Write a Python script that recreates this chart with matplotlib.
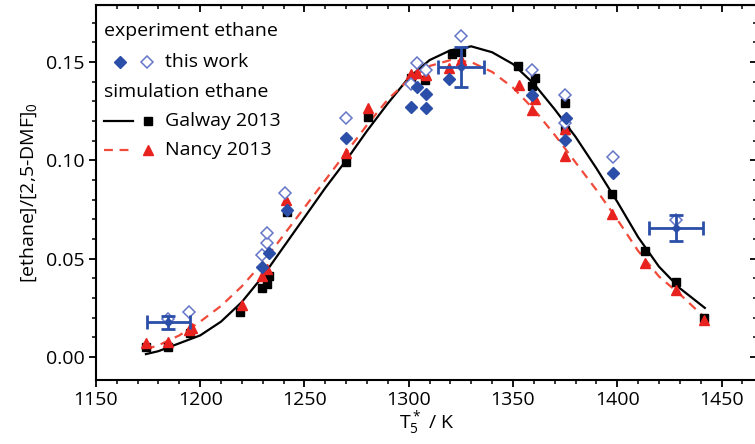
import matplotlib.pyplot as plt

plt.rcParams['font.family'] = ['Open Sans', 'DejaVu Sans']
plt.rcParams['mathtext.fontset'] = 'custom'
plt.rcParams['mathtext.rm'] = 'Open Sans'
plt.rcParams['mathtext.it'] = 'Open Sans'

# Simulated ethane yield, Galway 2013 mechanism (smooth curve)
galway_T = [1174, 1180, 1190, 1200, 1210, 1220, 1230, 1240, 1250, 1260, 1270, 1280,
            1290, 1300, 1310, 1320, 1330, 1340, 1350, 1360, 1370, 1380, 1390, 1400,
            1410, 1420, 1430, 1442]
galway_v = [0.0015, 0.003, 0.007, 0.011, 0.018, 0.028, 0.041, 0.056, 0.071, 0.086, 0.100,
            0.115, 0.129, 0.142, 0.151, 0.156, 0.158, 0.155, 0.149, 0.139, 0.126, 0.112,
            0.096, 0.079, 0.061, 0.046, 0.035, 0.025]

# Simulated ethane yield, Nancy 2013 mechanism (smooth curve)
nancy_T = [1174, 1180, 1190, 1200, 1210, 1220, 1230, 1240, 1250, 1260, 1270, 1280,
           1290, 1300, 1310, 1320, 1330, 1340, 1350, 1360, 1370, 1380, 1390, 1400,
           1410, 1420, 1430, 1442]
nancy_v = [0.004, 0.006, 0.011, 0.018, 0.026, 0.036, 0.048, 0.062, 0.076, 0.090, 0.104,
           0.118, 0.131, 0.141, 0.148, 0.151, 0.150, 0.145, 0.137, 0.126, 0.113, 0.099,
           0.085, 0.070, 0.054, 0.041, 0.032, 0.020]

# Simulation points at the experimental conditions
galway_pts_T = [1174, 1184.5, 1195, 1219, 1229.5, 1231.9, 1233, 1241.5, 1270, 1280.7,
                1301, 1307.6, 1320.6, 1325, 1352.6, 1359.3, 1360.7, 1375, 1375,
                1397.6, 1413.4, 1428.3, 1441.7]
galway_pts_v = [0.005, 0.005, 0.012, 0.023, 0.035, 0.037, 0.041, 0.074, 0.099, 0.122,
                0.142, 0.141, 0.154, 0.155, 0.148, 0.138, 0.142, 0.129, 0.1155,
                0.083, 0.054, 0.038, 0.020]

nancy_pts_T = [1174, 1184.5, 1194.5, 1196, 1220, 1229.5, 1232, 1241, 1270, 1280.7,
               1301, 1304, 1308.5, 1319.5, 1325, 1353, 1360.7, 1359.3, 1375, 1375,
               1397.6, 1413.4, 1428.3, 1441.7]
nancy_pts_v = [0.007, 0.0076, 0.014, 0.015, 0.0264, 0.041, 0.045, 0.080, 0.104, 0.1267,
               0.144, 0.1445, 0.1434, 0.147, 0.151, 0.1383, 0.131, 0.1256, 0.116, 0.102,
               0.0727, 0.048, 0.034, 0.019]

# Experiment, this work (filled and open diamonds)
exp_filled_T = [1229.5, 1233, 1241.5, 1270, 1301, 1304, 1308.5, 1308.5, 1319.5,
                1359.3, 1375.6, 1375, 1398]
exp_filled_v = [0.0458, 0.053, 0.075, 0.1114, 0.127, 0.1373, 0.1338, 0.1266, 0.1414,
                0.1333, 0.1216, 0.1104, 0.0936]

exp_open_T = [1184.5, 1194.5, 1229.5, 1231.9, 1231.9, 1240.5, 1270, 1301, 1304, 1308.5,
              1325, 1359.3, 1375, 1375, 1398, 1428.3]
exp_open_v = [0.0195, 0.0229, 0.0519, 0.058, 0.0631, 0.0834, 0.1216, 0.139, 0.1495, 0.146,
              0.1633, 0.146, 0.1333, 0.119, 0.1017, 0.0695]

# Representative uncertainties
err_T = [1184.7, 1325, 1428.3]
err_v = [0.0178, 0.1475, 0.0656]
err_dT = [10.3, 11, 13]
err_dv = [0.0033, 0.010, 0.0066]

blue = '#2b4ea8'
blue_open = '#6676c8'
red = '#e8221e'
red_dash = '#f04a3a'

fig = plt.figure(figsize=(7.55, 4.44), dpi=100)
ax = fig.add_axes([0.127, 0.144, 0.8756, 0.8446])

ax.plot(galway_T, galway_v, color='black', lw=1.6, zorder=2)
ax.plot(nancy_T, nancy_v, color=red_dash, lw=1.6, ls=(0, (4, 3)), zorder=2)

ax.plot(galway_pts_T, galway_pts_v, 's', color='black', ms=5.5, ls='none', zorder=3)
ax.plot(nancy_pts_T, nancy_pts_v, '^', color=red, ms=6.5, ls='none', zorder=3)
ax.plot(exp_open_T, exp_open_v, 'D', mfc='white', mec=blue_open, mew=1.1, ms=6,
        ls='none', zorder=4)
ax.plot(exp_filled_T, exp_filled_v, 'D', color=blue, ms=6, ls='none', zorder=4)
ax.errorbar(err_T, err_v, xerr=err_dT, yerr=err_dv, fmt='D', color=blue, ms=4,
            elinewidth=2, capsize=5, capthick=2, zorder=5)

ax.set_xlim(1150, 1467)
ax.set_ylim(-0.0117, 0.179)
ax.set_xticks([1150, 1200, 1250, 1300, 1350, 1400, 1450])
ax.set_xticks(range(1150, 1467, 10), minor=True)
ax.set_yticks([0.00, 0.05, 0.10, 0.15])
ax.set_yticks([i / 100 for i in range(0, 18)], minor=True)
ax.set_yticklabels(['0.00', '0.05', '0.10', '0.15'])

fs = 14
for s in ax.spines.values():
    s.set_linewidth(1.5)
ax.tick_params(which='major', direction='out', length=5, width=1.3, labelsize=fs, pad=3)
ax.tick_params(which='minor', direction='out', length=3, width=1.1)

# mirrored ticks on top and right, pointing inward
top = ax.secondary_xaxis('top')
top.set_xticks(ax.get_xticks())
top.set_xticks(range(1150, 1467, 10), minor=True)
top.tick_params(which='major', direction='in', length=5, width=1.3, labeltop=False)
top.tick_params(which='minor', direction='in', length=3, width=1.1)
right = ax.secondary_yaxis('right')
right.set_yticks([0.00, 0.05, 0.10, 0.15])
right.set_yticks([i / 100 for i in range(0, 18)], minor=True)
right.tick_params(which='major', direction='in', length=5, width=1.3, labelright=False)
right.tick_params(which='minor', direction='in', length=3, width=1.1)

ax.set_xlabel(r'T$_5^*$ / K', fontsize=fs, labelpad=0)
ax.set_ylabel(r'[ethane]/[2,5-DMF]$_0$', fontsize=fs, labelpad=5)

# hand-built legend
tr = ax.transAxes
ax.text(0.013, 0.931, 'experiment ethane', transform=tr, fontsize=fs, va='center')
ax.plot([0.036], [0.848], 'D', color=blue, ms=6, transform=tr, clip_on=False)
ax.plot([0.077], [0.848], 'D', mfc='white', mec=blue_open, mew=1.1, ms=6,
        transform=tr, clip_on=False)
ax.text(0.104, 0.848, 'this work', transform=tr, fontsize=fs, va='center')
ax.text(0.013, 0.768, 'simulation ethane', transform=tr, fontsize=fs, va='center')
ax.plot([0.013, 0.056], [0.691, 0.691], color='black', lw=1.6, transform=tr)
ax.plot([0.079], [0.691], 's', color='black', ms=5.5, transform=tr)
ax.text(0.104, 0.691, 'Galway 2013', transform=tr, fontsize=fs, va='center')
ax.plot([0.013, 0.056], [0.613, 0.613], color=red_dash, lw=1.6, ls=(0, (4, 3)),
        transform=tr)
ax.plot([0.079], [0.613], '^', color=red, ms=6.5, transform=tr)
ax.text(0.104, 0.613, 'Nancy 2013', transform=tr, fontsize=fs, va='center')

fig.savefig('out.png', dpi=100)
